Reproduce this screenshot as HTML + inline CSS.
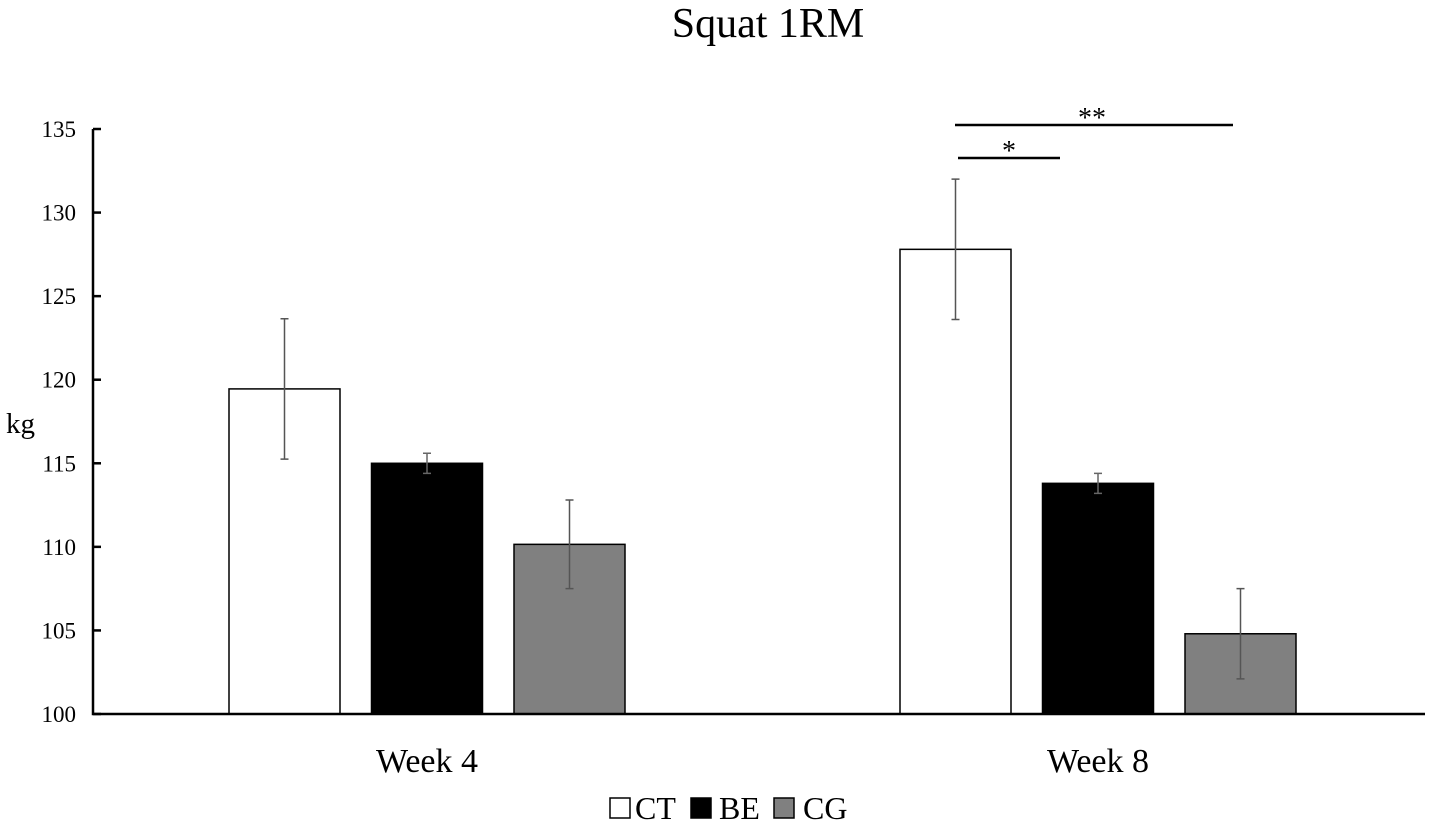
<!DOCTYPE html>
<html><head><meta charset="utf-8"><style>
body{margin:0;background:#fff;}
svg{display:block;font-family:"Liberation Serif",serif;}
</style></head><body>
<svg id="chart" width="1441" height="829" viewBox="0 0 1441 829">
<text x="768" y="37" text-anchor="middle" font-size="42">Squat 1RM</text>
<text x="6" y="433" font-size="29">kg</text>
<g id="plot"></g>
<g>
<rect x="610" y="798" width="20" height="20" fill="#fff" stroke="#000" stroke-width="1.5"/>
<text x="635" y="819" font-size="32">CT</text>
<rect x="691" y="798" width="20" height="20" fill="#000" stroke="#000" stroke-width="1.5"/>
<text x="719" y="819" font-size="32">BE</text>
<rect x="774" y="798" width="20" height="20" fill="#808080" stroke="#000" stroke-width="1.5"/>
<text x="803" y="819" font-size="32">CG</text>
</g>
</svg>
<script>
const categories = ["Week 4", "Week 8"];
const seriesNames = ["CT", "BE", "CG"];
const ctValues = [119.45, 127.8];
const beValues = [115.0, 113.8];
const cgValues = [110.15, 104.8];
const ctErrors = [4.2, 4.2];
const beErrors = [0.6, 0.6];
const cgErrors = [2.65, 2.7];
const yTicks = [100, 105, 110, 115, 120, 125, 130, 135];

const NS = "http://www.w3.org/2000/svg";
const g = document.getElementById("plot");
const y0 = 714, pxPerUnit = (714 - 129) / 35;
function yScale(v){ return y0 - (v - 100) * pxPerUnit; }
const groupCenters = [427, 1098];
const barW = 111, barStep = 142.5;
function xBar(ci, si){ return groupCenters[ci] + (si - 1) * barStep - barW / 2; }
function mk(tag, attrs){ const e = document.createElementNS(NS, tag); for (const k in attrs) e.setAttribute(k, attrs[k]); g.appendChild(e); return e; }

const vals = [ctValues, beValues, cgValues];
const errs = [ctErrors, beErrors, cgErrors];
const fills = ["#fff", "#000", "#808080"];
for (let ci = 0; ci < categories.length; ci++) {
  for (let si = 0; si < 3; si++) {
    const v = vals[si][ci], x = xBar(ci, si);
    const r = mk("rect", {x: x, y: yScale(v), width: barW, height: y0 - yScale(v), fill: fills[si], stroke: "#000", "stroke-width": 1.5});
    
    
    const cx = x + barW / 2, e = errs[si][ci];
    const col = si === 1 ? "#666" : "#555";
    const eb = mk("path", {d: `M${cx},${yScale(v+e)}V${yScale(v-e)}M${cx-4},${yScale(v+e)}H${cx+4}M${cx-4},${yScale(v-e)}H${cx+4}`, stroke: col, "stroke-width": 1.5, fill: "none"});
    
    
  }
  const t = mk("text", {x: groupCenters[ci], y: 772, "text-anchor": "middle", "font-size": 34});
  t.textContent = categories[ci];
  
  
}
const ax = mk("path", {d: `M93,${yScale(135)}V${y0}H1425`, stroke: "#000", "stroke-width": 2.5, fill: "none"});


yTicks.forEach(v => {
  const tk = mk("path", {d: `M93,${yScale(v)}H101`, stroke: "#000", "stroke-width": 2.5});
  
  
  const tl = mk("text", {x: 76, y: yScale(v) + 8, "text-anchor": "end", "font-size": 23});
  tl.textContent = v;
  
  
});
const s1 = mk("path", {d: "M955,125H1233", stroke: "#000", "stroke-width": 2.5});


const s1t = mk("text", {x: 1092, y: 127, "text-anchor": "middle", "font-size": 28});
s1t.textContent = "**";


const s2 = mk("path", {d: "M958,158H1060", stroke: "#000", "stroke-width": 2.5});


const s2t = mk("text", {x: 1009, y: 160, "text-anchor": "middle", "font-size": 28});
s2t.textContent = "*";


</script>
</body></html>
